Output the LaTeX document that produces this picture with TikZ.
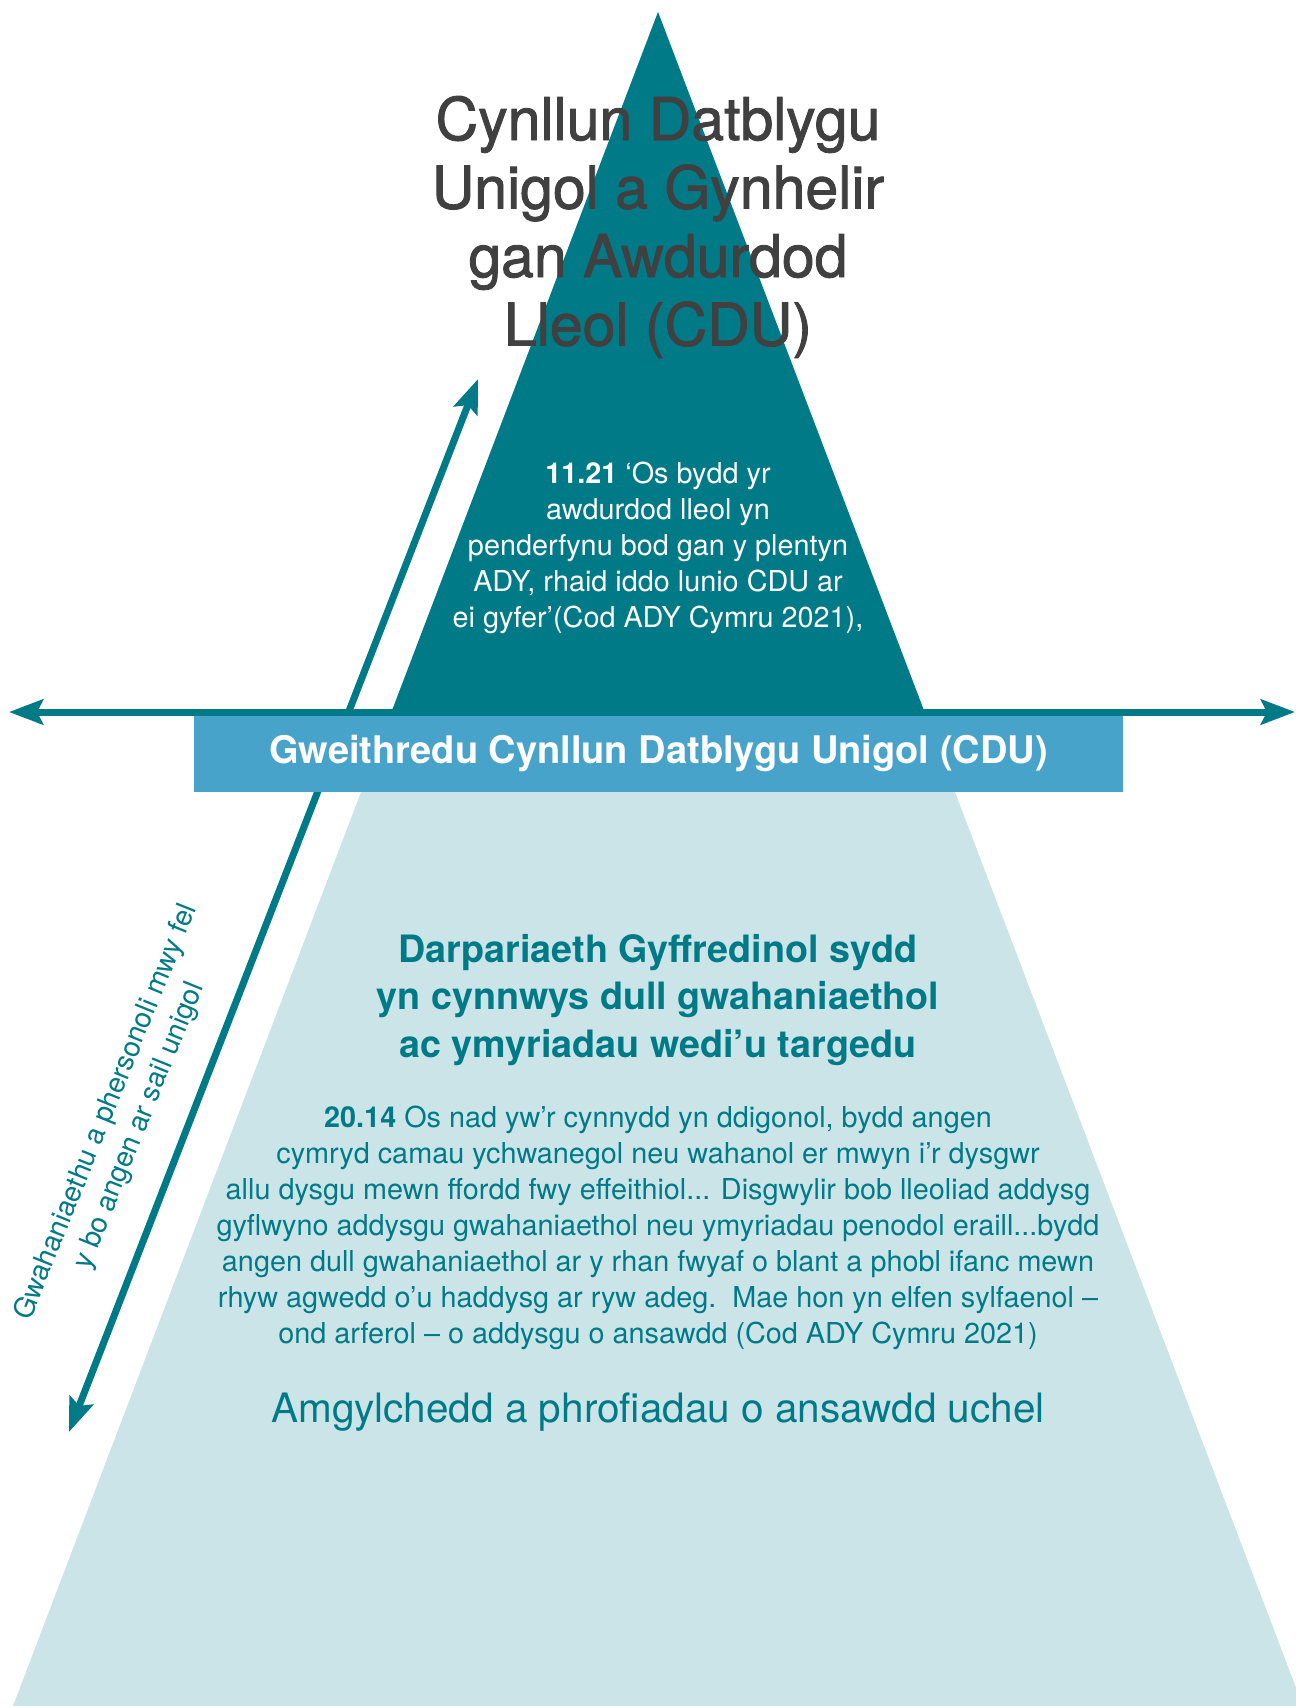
\documentclass[tikz,border=0pt]{standalone}
\usepackage{fontspec}
\setmainfont{TeX Gyre Heros}
\newfontfamily\titlefont{TeX Gyre Heros}[FakeBold=1.5]
\usetikzlibrary{arrows.meta,positioning}

\definecolor{cduteal}{RGB}{0,122,135}
\definecolor{cdulight}{RGB}{202,228,232}
\definecolor{cduband}{RGB}{72,163,203}
\definecolor{cdugray}{RGB}{64,64,64}

\begin{document}
\begin{tikzpicture}[x=1bp,y=-1bp]

% definitions
\tikzstyle{title} = [text=cdugray, align=center, inner sep=0, font=\titlefont\fontsize{59bp}{68.5bp}\selectfont]

\tikzstyle{quote} = [align=center, inner sep=0, font=\fontsize{28.8bp}{36bp}\selectfont]

\tikzstyle{heading} = [text=cduteal, align=center, inner sep=0, font=\fontsize{37.7bp}{47.5bp}\selectfont\bfseries]

\tikzstyle{band} = [rectangle, minimum width=929bp, minimum height=77bp, fill=cduband, text=white, inner sep=0, font=\fontsize{38bp}{44bp}\selectfont\bfseries]

\tikzstyle{arrow} = [line width=7bp, draw=cduteal, {Stealth[length=34bp,width=25bp,inset=6bp]}-{Stealth[length=34bp,width=25bp,inset=6bp]}]

\useasboundingbox (0,0) rectangle (1295,1706);

% the pyramid
\fill [cdulight] (658,12) -- (13,1706) -- (1303,1706) -- cycle;
\fill [cduteal] (658,12) -- (390.3,715) -- (925.7,715) -- cycle;

\coordinate (low) at (69,1432);
\coordinate (high) at (478,379);
\coordinate (west) at (9,712);
\coordinate (east) at (1295,712);

\draw [arrow] (low) -- (high);

\node (cdu) [band] at (658.5,753.5) {Gweithredu Cynllun Datblygu Unigol (CDU)};

\draw [arrow] (west) -- (east);

% the text
\node (plan) [title] at (658,227) {Cynllun Datblygu\\Unigol a Gynhelir\\gan Awdurdod\\Lleol (CDU)};

\node (code1121) [quote, text=white] at (658,548) {\textbf{11.21} ‘Os bydd yr\\awdurdod lleol yn\\penderfynu bod gan y plentyn\\ADY, rhaid iddo lunio CDU ar\\ei gyfer’(Cod ADY Cymru 2021),};

\node (general) [heading] at (658,1000) {Darpariaeth Gyffredinol sydd\\yn cynnwys dull gwahaniaethol\\ac ymyriadau wedi’u targedu};

\node (code2014) [quote, text=cduteal] at (658,1228) {\textbf{20.14} Os nad yw’r cynnydd yn ddigonol, bydd angen\\cymryd camau ychwanegol neu wahanol er mwyn i’r dysgwr\\allu dysgu mewn ffordd fwy effeithiol... Disgwylir bob lleoliad addysg\\gyflwyno addysgu gwahaniaethol neu ymyriadau penodol eraill...bydd\\angen dull gwahaniaethol ar y rhan fwyaf o blant a phobl ifanc mewn\\rhyw agwedd o’u haddysg ar ryw adeg.\ \ Mae hon yn elfen sylfaenol –\\ond arferol – o addysgu o ansawdd (Cod ADY Cymru 2021)};

\node (quality) [quote, text=cduteal, font=\fontsize{40.5bp}{48bp}\selectfont] at (658,1412) {Amgylchedd a phrofiadau o ansawdd uchel};

\node (personal) [quote, text=cduteal, rotate=68, font=\fontsize{28.2bp}{35.5bp}\selectfont] at (123,1119) {Gwahaniaethu a phersonoli mwy fel\\y bo angen ar sail unigol};

\end{tikzpicture}
\end{document}
